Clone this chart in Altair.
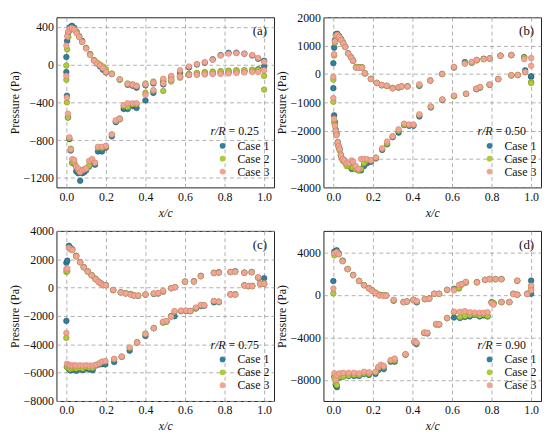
import altair as alt
import pandas as pd

CASES = ["Case 1", "Case 2", "Case 3"]
FILL = ["#347f9b", "#aecb3a", "#f1a694"]
EDGE = ["#1d566b", "#7f9b1f", "#d58270"]
FONT = "Liberation Serif, Times New Roman, serif"

# ---------------- panel (a) r/R = 0.25 ----------------
A_ps_x = [0.0, 0.004, 0.01, 0.018, 0.028, 0.04, 0.052, 0.065, 0.08, 0.1, 0.12, 0.14, 0.155, 0.17, 0.185, 0.2, 0.23, 0.27, 0.31, 0.335, 0.355, 0.4, 0.44, 0.49, 0.53, 0.575, 0.62, 0.66, 0.7, 0.74, 0.78, 0.82, 0.86, 0.9, 0.94, 0.97, 1.0]
A_ps_1 = [80, 250, 340, 395, 410, 390, 345, 300, 250, 175, 110, 45, 10, -20, -55, -85, -100, -160, -215, -225, -245, -220, -200, -180, -130, -90, -30, 0, 20, 55, 100, 125, 125, 115, 95, 60, 40]
A_ps_2 = [-10, 160, 290, 360, 380, 375, 340, 295, 240, 175, 110, 45, 20, 0, -20, -50, -95, -160, -200, -210, -225, -200, -180, -160, -150, -120, -100, -90, -80, -75, -70, -65, -60, -60, -55, -55, -120]
A_ps_3 = [200, 300, 350, 380, 385, 370, 330, 290, 240, 170, 100, 40, 10, -10, -40, -80, -100, -155, -205, -215, -230, -210, -190, -150, -120, -60, -20, 5, 25, 50, 95, 115, 120, 115, 100, 70, 30]
A_ss_x = [0.0, 0.003, 0.008, 0.015, 0.022, 0.03, 0.04, 0.05, 0.06, 0.07, 0.08, 0.09, 0.1, 0.115, 0.13, 0.145, 0.16, 0.18, 0.2, 0.23, 0.25, 0.27, 0.29, 0.31, 0.335, 0.355, 0.4, 0.44, 0.49, 0.53, 0.575, 0.62, 0.66, 0.7, 0.74, 0.78, 0.82, 0.86, 0.9, 0.94, 0.97, 1.0]
A_ss_1 = [-80, -330, -560, -790, -910, -1040, -1050, -1130, -1150, -1230, -1150, -1140, -1120, -1080, -1020, -1060, -920, -920, -880, -760, -610, -580, -470, -470, -440, -460, -380, -300, -210, -170, -130, -110, -100, -100, -95, -90, -85, -80, -75, -70, -50, -20]
A_ss_2 = [-160, -400, -560, -780, -890, -1040, -1040, -1090, -1120, -1130, -1120, -1110, -1100, -1070, -1010, -1040, -880, -880, -870, -740, -600, -570, -440, -450, -420, -420, -300, -280, -280, -180, -140, -100, -90, -85, -80, -75, -70, -65, -60, -60, -60, -265]
A_ss_3 = [-120, -350, -520, -770, -900, -1000, -1010, -1080, -1100, -1140, -1120, -1110, -1100, -1020, -1000, -1040, -870, -870, -860, -740, -590, -575, -430, -410, -410, -410, -320, -270, -200, -160, -130, -110, -110, -105, -100, -100, -95, -90, -85, -80, -80, -60]

# ---------------- panel (b) r/R = 0.50 ----------------
B_ps_x = [0.0, 0.004, 0.008, 0.013, 0.02, 0.03, 0.04, 0.05, 0.06, 0.075, 0.09, 0.1, 0.115, 0.13, 0.145, 0.16, 0.19, 0.22, 0.245, 0.27, 0.3, 0.33, 0.345, 0.375, 0.435, 0.49, 0.55, 0.61, 0.665, 0.7, 0.725, 0.76, 0.79, 0.845, 0.9, 0.965, 1.0]
B_ps_1 = [380, 930, 1200, 1400, 1420, 1330, 1220, 1100, 960, 730, 590, 470, 230, 230, 230, 20, -170, -320, -400, -420, -500, -480, -440, -430, -420, -230, 0, 230, 420, 400, 490, 540, 550, 650, 670, 600, -100]
B_ps_2 = [-200, 650, 1100, 1350, 1380, 1300, 1200, 1080, 950, 720, 580, 470, 250, 240, 240, 20, -170, -310, -390, -420, -490, -470, -440, -440, -400, -230, 0, 230, 380, 400, 480, 520, 540, 640, 660, 580, -280]
B_ps_3 = [-100, 700, 1150, 1350, 1370, 1300, 1200, 1080, 950, 720, 580, 470, 220, 220, 220, 30, -180, -320, -390, -410, -510, -460, -440, -440, -360, -230, 0, 250, 360, 430, 500, 520, 550, 640, 670, 520, 560]
B_ss_x = [0.0, 0.004, 0.008, 0.012, 0.016, 0.022, 0.027, 0.032, 0.038, 0.047, 0.055, 0.067, 0.08, 0.093, 0.1, 0.113, 0.127, 0.14, 0.155, 0.17, 0.19, 0.215, 0.247, 0.272, 0.3, 0.33, 0.358, 0.383, 0.405, 0.435, 0.493, 0.551, 0.61, 0.671, 0.723, 0.742, 0.79, 0.834, 0.9, 0.933, 0.97, 1.0]
B_ss_1 = [-500, -1460, -1700, -1970, -2100, -2400, -2550, -2650, -2850, -3000, -3050, -3200, -3250, -3350, -3300, -3350, -3400, -3400, -3250, -3150, -3100, -2980, -2680, -2480, -2230, -2070, -1800, -1830, -1830, -1500, -1180, -920, -780, -700, -540, -480, -380, -180, -50, -40, 130, -80]
B_ss_2 = [-980, -1700, -1800, -2050, -2150, -2450, -2600, -2700, -2900, -3050, -3100, -3250, -3250, -3300, -3300, -3350, -3400, -3350, -3150, -3050, -3050, -2950, -2650, -2450, -2200, -2000, -1780, -1800, -1800, -1450, -1150, -900, -780, -700, -520, -470, -380, -180, -50, -30, 60, -320]
B_ss_3 = [-850, -1580, -1830, -2000, -2150, -2400, -2550, -2650, -2850, -3000, -3050, -3150, -3150, -3050, -3100, -3250, -3350, -3000, -3000, -3000, -3050, -2950, -2620, -2380, -2200, -1950, -1750, -1780, -1780, -1420, -1150, -900, -760, -700, -520, -460, -370, -180, -40, -40, 70, 290]

# ---------------- panel (c) r/R = 0.75 ----------------
C_ps_x = [0.0, 0.005, 0.013, 0.02, 0.03, 0.05, 0.07, 0.088, 0.108, 0.128, 0.147, 0.163, 0.175, 0.187, 0.2, 0.237, 0.275, 0.3, 0.325, 0.342, 0.363, 0.4, 0.442, 0.464, 0.489, 0.53, 0.55, 0.6, 0.645, 0.68, 0.746, 0.771, 0.83, 0.854, 0.9, 0.937, 0.97, 1.0]
C_ps_1 = [1750, 1900, 2950, 2800, 2700, 2250, 1800, 1450, 1150, 880, 630, 430, 300, 180, 180, -180, -340, -410, -460, -560, -580, -500, -450, -420, -280, -50, 30, 420, 450, 830, 1050, 1080, 1100, 1150, 1060, 1100, 700, 660]
C_ps_2 = [1100, 1150, 2800, 2700, 2650, 2200, 1780, 1430, 1130, 860, 600, 400, 280, 170, 170, -170, -330, -400, -450, -540, -560, -480, -420, -400, -270, -40, 30, 420, 430, 800, 1020, 1050, 1100, 1120, 1040, 1080, 700, 300]
C_ps_3 = [1300, 1350, 2800, 2700, 2650, 2200, 1780, 1430, 1130, 860, 600, 400, 280, 170, 170, -170, -350, -420, -500, -560, -560, -480, -420, -380, -220, -40, 30, 420, 420, 800, 1020, 1050, 1100, 1120, 1050, 1080, 730, 280]
C_ss_x = [0.0, 0.003, 0.013, 0.02, 0.03, 0.042, 0.05, 0.067, 0.083, 0.1, 0.117, 0.133, 0.15, 0.167, 0.18, 0.197, 0.242, 0.28, 0.32, 0.358, 0.4, 0.442, 0.489, 0.506, 0.53, 0.547, 0.58, 0.605, 0.627, 0.655, 0.68, 0.697, 0.746, 0.771, 0.83, 0.854, 0.9, 0.92, 0.94, 0.98, 1.0]
C_ss_1 = [-2350, -5600, -5750, -5850, -5800, -5750, -5870, -5750, -5830, -5700, -5780, -5830, -5500, -5420, -5400, -5420, -5250, -4880, -4450, -3880, -3420, -2860, -2460, -2400, -2000, -2020, -1660, -1650, -1670, -1480, -1300, -1280, -1040, -1030, -480, -480, 160, 100, 120, 280, 250]
C_ss_2 = [-3550, -5600, -5700, -5750, -5700, -5650, -5700, -5650, -5700, -5600, -5650, -5650, -5450, -5350, -5250, -5200, -5050, -4880, -4250, -3850, -3250, -2860, -2460, -2400, -2050, -1700, -1650, -1650, -1650, -1450, -1250, -1250, -950, -980, -480, -480, 150, 100, 110, 270, 260]
C_ss_3 = [-3200, -5380, -5450, -5500, -5500, -5480, -5500, -5480, -5500, -5480, -5500, -5500, -5450, -5350, -5220, -5190, -5030, -4870, -4230, -3870, -3270, -2860, -2400, -2350, -2050, -1650, -1620, -1620, -1650, -1400, -1220, -1250, -950, -1000, -480, -500, 150, 120, 100, 270, 270]

# ---------------- panel (d) r/R = 0.90 ----------------
D_ps_x = [0.0, 0.005, 0.017, 0.027, 0.047, 0.072, 0.1, 0.13, 0.155, 0.18, 0.197, 0.213, 0.233, 0.252, 0.267, 0.305, 0.355, 0.372, 0.405, 0.422, 0.463, 0.485, 0.51, 0.535, 0.575, 0.61, 0.635, 0.65, 0.67, 0.726, 0.767, 0.79, 0.82, 0.85, 0.93, 1.0]
D_ps_1 = [1280, 4050, 4180, 3900, 3200, 2420, 1850, 1300, 900, 600, 380, 150, -20, -60, -80, -560, -700, -650, -500, -720, -420, -380, 90, 90, 450, 560, 600, 1000, 1150, 1180, 1400, 1470, 1460, 1470, 1300, 1320]
D_ps_2 = [120, 3700, 3950, 3800, 3150, 2400, 1850, 1300, 900, 620, 400, 200, 0, -60, -80, -520, -680, -640, -480, -650, -420, -360, 80, 80, 440, 500, 600, 950, 1150, 1150, 1380, 1450, 1450, 1450, 1300, 800]
D_ps_3 = [580, 3900, 4000, 3800, 3150, 2400, 1830, 1280, 880, 580, 350, 150, -90, -90, -90, -490, -720, -640, -490, -600, -400, -380, 90, 80, 460, 400, 920, 1000, 1220, 1160, 1400, 1470, 1450, 1450, 1315, 855]
D_ss_x = [0.005, 0.012, 0.018, 0.03, 0.05, 0.077, 0.105, 0.13, 0.155, 0.18, 0.213, 0.227, 0.24, 0.255, 0.29, 0.31, 0.365, 0.41, 0.42, 0.46, 0.475, 0.52, 0.535, 0.575, 0.61, 0.64, 0.665, 0.69, 0.715, 0.74, 0.76, 0.78, 0.8, 0.81, 0.85, 0.89, 0.91, 0.93, 0.98, 1.0]
D_ss_1 = [-7700, -8500, -8700, -7800, -7700, -7650, -7650, -7650, -7450, -7550, -7450, -7100, -6700, -7000, -6300, -6300, -5650, -4450, -4650, -3600, -3650, -2800, -2800, -2200, -2150, -2200, -2100, -2050, -1900, -2050, -1950, -2050, -700, -800, -700, -700, 90, 0, 90, 80]
D_ss_2 = [-7800, -8300, -8500, -7750, -7700, -7600, -7550, -7550, -7400, -7450, -7300, -6900, -6650, -6800, -6200, -6200, -5600, -4400, -4550, -3600, -3600, -2800, -2800, -2200, -1650, -2100, -2000, -1900, -1850, -1950, -1850, -2000, -750, -800, -700, -700, 80, 0, 80, 500]
D_ss_3 = [-7400, -8000, -7600, -7400, -7350, -7350, -7350, -7400, -7250, -7300, -7250, -6800, -6600, -6700, -6150, -6000, -5600, -4400, -4500, -3550, -3580, -2750, -2780, -2200, -1590, -1600, -1550, -1650, -1680, -1700, -1700, -1650, -800, -950, -700, -700, 50, 0, 60, 400]

X_TICKS = [0.0, 0.2, 0.4, 0.6, 0.8, 1.0]

PANELS = [
    dict(tag="(a)", rr="= 0.25", ydom=[-1300, 500], yticks=[-1200, -800, -400, 0, 400],
         ps_x=A_ps_x, ps=[A_ps_1, A_ps_2, A_ps_3], ss_x=A_ss_x, ss=[A_ss_1, A_ss_2, A_ss_3]),
    dict(tag="(b)", rr="= 0.50", ydom=[-4000, 2000], yticks=[-4000, -3000, -2000, -1000, 0, 1000, 2000],
         ps_x=B_ps_x, ps=[B_ps_1, B_ps_2, B_ps_3], ss_x=B_ss_x, ss=[B_ss_1, B_ss_2, B_ss_3]),
    dict(tag="(c)", rr="= 0.75", ydom=[-8000, 4000], yticks=[-8000, -6000, -4000, -2000, 0, 2000, 4000],
         ps_x=C_ps_x, ps=[C_ps_1, C_ps_2, C_ps_3], ss_x=C_ss_x, ss=[C_ss_1, C_ss_2, C_ss_3]),
    dict(tag="(d)", rr="= 0.90", ydom=[-10000, 6000], yticks=[-8000, -4000, 0, 4000],
         ps_x=D_ps_x, ps=[D_ps_1, D_ps_2, D_ps_3], ss_x=D_ss_x, ss=[D_ss_1, D_ss_2, D_ss_3]),
]

W, H = 220, 172


def table(p):
    rows = []
    for ci, case in enumerate(CASES):
        for xs, ys in ((p["ps_x"], p["ps"][ci]), (p["ss_x"], p["ss"][ci])):
            assert len(xs) == len(ys), (p["tag"], case, len(xs), len(ys))
            for xv, yv in zip(xs, ys):
                rows.append({"x": xv, "p": yv, "case": case, "k": ci})
    return pd.DataFrame(rows)


def panel(p):
    df = table(p)
    pts = alt.Chart(df).mark_circle(size=32, opacity=1, strokeWidth=0.6).encode(
        x=alt.X("x:Q",
                scale=alt.Scale(domain=[-0.05, 1.05], nice=False, zero=False),
                axis=alt.Axis(values=X_TICKS, format=".1f", title="x/c",
                              titleFontStyle="italic", labelPadding=4, titlePadding=5)),
        y=alt.Y("p:Q",
                scale=alt.Scale(domain=p["ydom"], nice=False, zero=False),
                axis=alt.Axis(values=p["yticks"], format="d", title="Pressure (Pa)",
                              labelPadding=3, titlePadding=1, minExtent=34, maxExtent=34)),
        color=alt.Color("case:N", scale=alt.Scale(domain=CASES, range=FILL),
                        legend=alt.Legend(title=None, orient="none", legendX=162, legendY=124,
                                          labelFont=FONT, labelFontSize=12, labelColor="#111",
                                          symbolType="circle", symbolSize=34, labelOffset=9,
                                          rowPadding=1, symbolStrokeWidth=0)),
        stroke=alt.Stroke("case:N", scale=alt.Scale(domain=CASES, range=EDGE), legend=None),
        order=alt.Order("k:Q"),
    )
    t = pd.DataFrame({"tag": [p["tag"]], "r": ["r/R"], "v": [p["rr"]]})
    tag = alt.Chart(t).mark_text(font=FONT, fontSize=13, align="right", baseline="middle",
                                 color="#111").encode(x=alt.value(213), y=alt.value(14), text="tag:N")
    rr = alt.Chart(t).mark_text(font=FONT, fontSize=12, fontStyle="italic", align="right",
                                baseline="middle", color="#111").encode(
        x=alt.value(171), y=alt.value(115), text="r:N")
    vv = alt.Chart(t).mark_text(font=FONT, fontSize=12, align="left", baseline="middle",
                                color="#111").encode(x=alt.value(174), y=alt.value(115), text="v:N")
    return alt.layer(pts, tag, rr, vv).properties(width=W, height=H)


charts = [panel(p) for p in PANELS]

chart = alt.concat(*charts, columns=2, spacing={"row": 44, "column": 50}).properties(
    bounds="flush", padding={"left": 0, "top": 0, "right": 0, "bottom": 0}
).resolve_scale(
    color="independent", stroke="independent", x="independent", y="independent"
).resolve_legend(
    color="independent"
).configure_view(
    stroke="#222", strokeWidth=1
).configure_axis(
    labelFont=FONT, titleFont=FONT, labelFontSize=12, titleFontSize=12,
    labelColor="#111", titleColor="#111", titleFontWeight="normal",
    grid=True, gridColor="#9c9c9c", gridDash=[4, 3], gridWidth=0.8,
    domain=False, ticks=False
).configure_legend(
    padding=0
)

chart.save("out.html", embed_options={"renderer": "svg", "actions": False})
